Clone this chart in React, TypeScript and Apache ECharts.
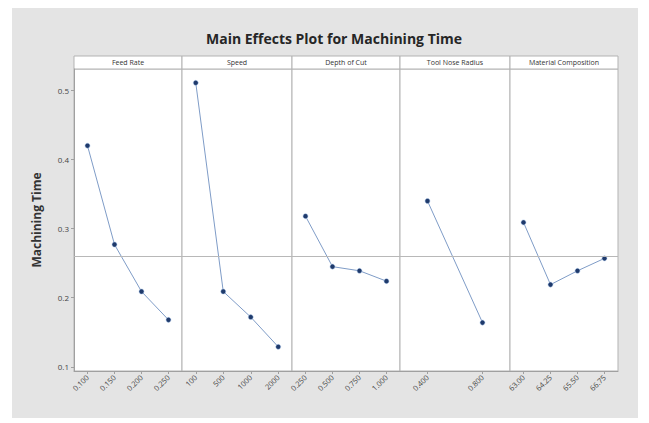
import React, { useEffect, useRef } from "react";
import * as echarts from "echarts";

const factors = ["Feed Rate", "Speed", "Depth of Cut", "Tool Nose Radius", "Material Composition"];
const feedLevels = ["0.100", "0.150", "0.200", "0.250"];
const speedLevels = ["100", "500", "1000", "2000"];
const depthLevels = ["0.250", "0.500", "0.750", "1.000"];
const noseLevels = ["0.400", "0.800"];
const materialLevels = ["63.00", "64.25", "65.50", "66.75"];

const feedMeans = [0.42, 0.277, 0.209, 0.168];
const speedMeans = [0.511, 0.209, 0.172, 0.129];
const depthMeans = [0.318, 0.245, 0.239, 0.224];
const noseMeans = [0.34, 0.164];
const materialMeans = [0.309, 0.219, 0.239, 0.257];

const grandMean = 0.258;
const yTicks = [0.1, 0.2, 0.3, 0.4, 0.5];

const levels = [feedLevels, speedLevels, depthLevels, noseLevels, materialLevels];
const means = [feedMeans, speedMeans, depthMeans, noseMeans, materialMeans];

const panelEdges = [74, 182, 292, 400, 510, 618];
const plotTop = 69;
const plotBottom = 371;
const headerTop = 56;

export default function App() {
  const ref = useRef<HTMLDivElement>(null);
  useEffect(() => {
    if (!ref.current) return;
    const chart = echarts.init(ref.current, null, { renderer: "svg" });
    const font = "'Open Sans', 'Noto Sans', sans-serif";
    const grids: any[] = [];
    const xAxes: any[] = [];
    const yAxes: any[] = [];
    const series: any[] = [];
    const graphics: any[] = [
      {
        type: "rect",
        shape: { x: 12, y: 8, width: 626, height: 410 },
        style: { fill: "#e4e4e4" },
        z: -10,
        silent: true,
      },
    ];
    factors.forEach((f, i) => {
      const left = panelEdges[i];
      const width = panelEdges[i + 1] - left;
      grids.push({
        left,
        width,
        top: plotTop,
        height: plotBottom - plotTop,
        show: true,
        backgroundColor: "#ffffff",
        borderColor: "#b3b3b3",
        borderWidth: 1,
      });
      xAxes.push({
        type: "category",
        gridIndex: i,
        data: levels[i],
        boundaryGap: true,
        axisLine: { show: true, lineStyle: { color: "#a0a0a0" } },
        axisTick: { show: true, alignWithLabel: true, length: 3, lineStyle: { color: "#a0a0a0" } },
        axisLabel: { rotate: 45, fontSize: 7.5, color: "#444", margin: 5, fontFamily: font, interval: 0 },
        splitLine: { show: false },
      });
      yAxes.push({
        type: "value",
        gridIndex: i,
        min: 0.094,
        max: 0.531,
        axisLine: { show: i === 0, lineStyle: { color: "#a0a0a0" } },
        axisTick: i === 0 ? { show: true, length: 3, customValues: yTicks, lineStyle: { color: "#a0a0a0" } } : { show: false },
        axisLabel:
          i === 0
            ? { show: true, customValues: yTicks, fontSize: 8, color: "#444", margin: 5, fontFamily: font, formatter: (v: number) => String(Math.round(v * 10) / 10) }
            : { show: false },
        splitLine: { show: false },
        name: i === 0 ? "Machining Time" : "",
        nameLocation: "middle",
        nameGap: 32,
        nameTextStyle: { fontSize: 12, fontWeight: "bold", color: "#333", fontFamily: font },
      });
      series.push({
        type: "line",
        xAxisIndex: i,
        yAxisIndex: i,
        data: means[i],
        symbol: "circle",
        symbolSize: 5,
        lineStyle: { color: "#7f9cc7", width: 1 },
        itemStyle: { color: "#1f3a6b", borderColor: "#a9c4ea", borderWidth: 0.5 },
        markLine: {
          silent: true,
          symbol: "none",
          label: { show: false },
          lineStyle: { color: "#b8b8b8", type: "solid", width: 1 },
          data: [{ yAxis: grandMean }],
        },
        z: 3,
      });
      graphics.push({
        type: "rect",
        shape: { x: left, y: headerTop, width, height: plotTop - headerTop },
        style: { fill: "#ffffff", stroke: "#b3b3b3", lineWidth: 1 },
        silent: true,
      });
      graphics.push({
        type: "text",
        x: left + width / 2,
        y: headerTop + (plotTop - headerTop) / 2,
        style: {
          text: f,
          fontSize: 7,
          fill: "#333",
          fontFamily: font,
          textAlign: "center",
          textVerticalAlign: "middle",
        },
        silent: true,
      });
    });
    chart.setOption({
      animation: false,
      backgroundColor: "#ffffff",
      title: {
        text: "Main Effects Plot for Machining Time",
        left: 329,
        top: 26,
        textAlign: "center",
        textStyle: { fontSize: 14, fontWeight: "bold", color: "#262626", fontFamily: font },
      },
      grid: grids,
      xAxis: xAxes,
      yAxis: yAxes,
      series,
      graphic: graphics,
    });
    return () => chart.dispose();
  }, []);
  return <div ref={ref} style={{ position: "absolute", left: 0, top: 0, width: 649, height: 423 }} />;
}
